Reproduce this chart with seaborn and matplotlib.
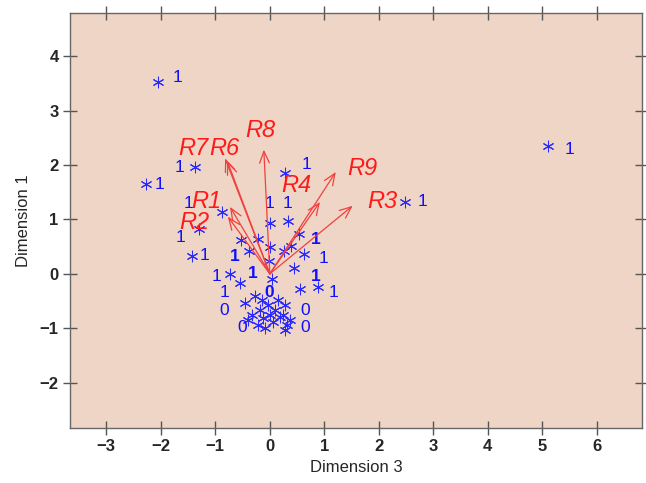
import matplotlib
matplotlib.use("Agg")
import matplotlib.pyplot as plt
import seaborn as sns
import pandas as pd

# --- data ---
star_x = [-2.06, -2.28, -1.38, 5.10, 2.48, 0.28, -0.88, -1.30, -1.43, -0.53,
          -0.39, -0.22, 0.00, 0.00, -0.02, 0.04, 0.33, 0.53, 0.26, 0.38,
          0.62, 0.44, -0.73, -0.55, 0.55, 0.88,
          -0.46, -0.28, -0.18, -0.13, -0.04, 0.00, 0.06, 0.09, 0.15, 0.18,
          0.28, 0.31, 0.28, 0.37, -0.33, -0.22, -0.09, -0.15, -0.40, 0.24]
star_y = [3.52, 1.65, 1.96, 2.35, 1.32, 1.85, 1.14, 0.83, 0.33, 0.62,
          0.42, 0.64, 0.94, 0.50, 0.24, -0.09, 0.97, 0.73, 0.42, 0.51,
          0.37, 0.11, 0.00, -0.17, -0.28, -0.24,
          -0.53, -0.40, -0.66, -0.81, -0.57, -0.75, -0.88, -0.66, -0.48, -0.79,
          -0.57, -0.94, -1.03, -0.84, -0.75, -0.94, -0.99, -0.48, -0.84, -0.75]

lab_text = ["1", "1", "1", "1", "1", "1", "1", "1", "1", "1", "1", "1",
            "1", "1", "1", "1", "1", "1", "1", "0", "0", "0", "0", "0"]
lab_x = [-1.69, -2.02, -1.65, 5.50, 2.81, 0.68, -1.50, -1.63, -1.19, -0.64, 0.00, 0.33,
         0.84, 0.99, 0.84, -0.97, -0.31, 1.16, -0.84, -0.02, -0.84, 0.64, -0.51, 0.64]
lab_y = [3.61, 1.65, 1.96, 2.29, 1.32, 2.00, 1.30, 0.66, 0.33, 0.31, 1.30, 1.30,
         0.64, 0.29, -0.04, -0.04, 0.00, -0.35, -0.35, -0.35, -0.68, -0.68, -0.99, -0.99]
lab_bold = [False, False, False, False, False, False, False, False, False, True, False, False,
            True, False, True, False, True, False, False, True, False, False, False, False]

arrow_names = ["R1", "R2", "R3", "R4", "R6", "R7", "R8", "R9"]
arrow_x = [-0.73, -0.77, 1.52, 0.92, -0.78, -0.82, -0.11, 1.21]
arrow_y = [1.23, 1.05, 1.25, 1.32, 2.07, 2.12, 2.28, 1.87]
name_x = [-1.16, -1.38, 2.06, 0.48, -0.83, -1.41, -0.18, 1.69]
name_y = [1.32, 0.95, 1.32, 1.63, 2.31, 2.31, 2.64, 1.94]

sns.set_style("ticks")
plt.rcParams['font.family'] = ['Liberation Sans', 'DejaVu Sans']

fig = plt.figure(figsize=(6.46, 4.83), dpi=100)
ax = fig.add_axes([0.108, 0.114, 0.886, 0.859])
ax.set_facecolor("#efd5c5")

# asterisk points
pts = pd.DataFrame({"x": star_x, "y": star_y})
sns.scatterplot(data=pts, x="x", y="y", marker=(6, 2, 0), s=60,
                color="#2a2aff", edgecolor="#2a2aff", linewidth=0.75, ax=ax, zorder=3)

for t, x, y, b in zip(lab_text, lab_x, lab_y, lab_bold):
    ax.text(x, y, t, color="#1010ff", fontsize=12.5, ha="center", va="center",
            fontweight="bold" if b else "normal", zorder=4)

# variable arrows
for n, x, y, nx, ny in zip(arrow_names, arrow_x, arrow_y, name_x, name_y):
    ax.annotate("", xy=(x, y), xytext=(0, 0),
                arrowprops=dict(arrowstyle="->,head_length=0.6,head_width=0.25",
                                color="#f04040", lw=0.9,
                                mutation_scale=14, shrinkA=0, shrinkB=0), zorder=5)
    ax.text(nx, ny, n, color="#ff1a1a", fontsize=17, style="italic",
            ha="center", va="center", zorder=6)

ax.set_xlim(-3.67, 6.83)
ax.set_ylim(-2.83, 4.79)
ax.set_xticks(range(-3, 7))
ax.set_yticks(range(-2, 5))
ax.tick_params(direction="inout", length=10, width=1, color="#555555",
               top=True, right=True, labelsize=12, pad=3)
for lbl in ax.get_xticklabels() + ax.get_yticklabels():
    lbl.set_fontweight("bold")
for sp in ax.spines.values():
    sp.set_color("#666666")
    sp.set_linewidth(1)

ax.set_xlabel("Dimension 3", fontsize=12)
ax.set_ylabel("Dimension 1", fontsize=12, labelpad=6)

fig.savefig("out.png", dpi=100)
